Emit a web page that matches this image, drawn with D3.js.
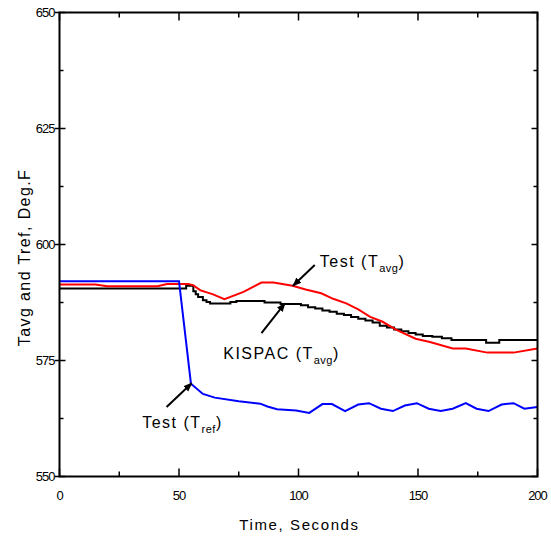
<!DOCTYPE html>
<html>
<head>
<meta charset="utf-8">
<script src="https://cdn.jsdelivr.net/npm/d3@7"></script>
<style>
  body { margin: 0; background: #fff; overflow: hidden; }
  svg { display: block; }
  text { font-family: "Liberation Sans", Arial, sans-serif; fill: #000; }
</style>
</head>
<body>
<div id="chart"></div>
<script>
// tick values
var timeTicks = [0, 50, 100, 150, 200];
var timeMinor = [25, 75, 125, 175];
var tempTicks = [550, 575, 600, 625, 650];
var tempMinor = [562.5, 587.5, 612.5, 637.5];

// Test (Tref) - blue
var testTref = [
  [0, 592.1], [50, 592.1], [55, 570], [60, 567.8], [65, 567], [75, 566.2],
  [84, 565.7], [87, 565.1], [91, 564.5], [99, 564.2], [104.5, 563.7],
  [110, 565.6], [114, 565.6], [119.5, 564.1], [125, 565.5], [129.5, 565.8],
  [134.5, 564.6], [139.5, 564.1], [144.5, 565.3], [149.5, 565.8], [154.5, 564.6],
  [159.5, 564.1], [164.5, 564.6], [170, 565.8], [174.5, 564.6], [179.5, 564.1],
  [185, 565.5], [190, 565.8], [194.5, 564.6], [200, 565]
];

// Test (Tavg) - red
var testTavg = [
  [0, 591.4], [15, 591.4], [20, 591], [41, 591], [45, 591.5], [54, 591.5],
  [56, 591.2], [59, 590.1], [64, 589.3], [69, 588.2], [77, 589.8], [84.5, 591.8],
  [89.5, 591.8], [97.5, 591.1], [103, 590.3], [109.5, 589.5], [114.5, 588.3],
  [120, 587.3], [125, 586], [130, 584.4], [135, 583.4], [141, 581.6], [149, 579.7],
  [155, 579], [164.5, 577.6], [170, 577.6], [179, 576.7], [190, 576.7], [200, 577.6]
];

// KISPAC (Tavg) - black, stepped
var kispacTavg = [
  [0, 590.5], [53, 591.1], [56, 589.9], [57, 589.3], [58, 588.7], [60, 588.0],
  [61.5, 587.6], [63, 587.3], [71.5, 587.6], [74, 587.8], [85.8, 587.5],
  [92.5, 587.2], [101, 586.9], [104, 586.5], [107, 586.2], [110, 585.8],
  [113, 585.5], [116, 585.1], [119, 584.8], [122, 584.4], [125, 584.0],
  [128, 583.6], [131, 583.2], [134, 582.5], [137, 582.1], [140, 581.7],
  [143, 581.3], [146, 580.9], [149, 580.6], [152, 580.3], [156, 580.1],
  [160, 579.8], [164, 579.4], [178.5, 578.8], [184, 579.4], [200, 579.4]
];

var width = 551, height = 536;
var margin = { top: 12.5, right: 13.5, bottom: 59.5, left: 59.5 };
var innerWidth = width - margin.left - margin.right;
var innerHeight = height - margin.top - margin.bottom;

var svg = d3.select("#chart")
  .append("svg")
  .attr("width", width)
  .attr("height", height)
  .append("g")
  .attr("transform", "translate(" + margin.left + "," + margin.top + ")");

var x = d3.scaleLinear().domain([0, 200]).range([0, innerWidth]);
var y = d3.scaleLinear().domain([550, 650]).range([innerHeight, 0]);

// arrowhead
svg.append("defs").append("marker")
  .attr("id", "arrow")
  .attr("viewBox", "0 0 10 10")
  .attr("refX", 9).attr("refY", 5)
  .attr("markerWidth", 9).attr("markerHeight", 9)
  .attr("markerUnits", "userSpaceOnUse")
  .attr("orient", "auto")
  .append("path")
  .attr("d", "M0,1 L10,5 L0,9 Z")
  .attr("fill", "#000");

// lines
var line = d3.line().x(d => x(d[0])).y(d => y(d[1]));
var stepLine = d3.line().x(d => x(d[0])).y(d => y(d[1])).curve(d3.curveStepAfter);

svg.append("path").datum(kispacTavg)
  .attr("d", stepLine).attr("fill", "none")
  .attr("stroke", "#000").attr("stroke-width", 2);

svg.append("path").datum(testTavg)
  .attr("d", line).attr("fill", "none")
  .attr("stroke", "#ff0000").attr("stroke-width", 2);

svg.append("path").datum(testTref)
  .attr("d", line).attr("fill", "none")
  .attr("stroke", "#0000ff").attr("stroke-width", 2);

// frame
svg.append("rect")
  .attr("x", 0).attr("y", 0)
  .attr("width", innerWidth).attr("height", innerHeight)
  .attr("fill", "none").attr("stroke", "#000").attr("stroke-width", 2);

// ticks (inward on all four sides)
function xTicks(vals, len) {
  svg.selectAll(null).data(vals).enter().append("line")
    .attr("x1", d => x(d)).attr("x2", d => x(d))
    .attr("y1", innerHeight).attr("y2", innerHeight - len)
    .attr("stroke", "#000").attr("stroke-width", 1.5);
  svg.selectAll(null).data(vals).enter().append("line")
    .attr("x1", d => x(d)).attr("x2", d => x(d))
    .attr("y1", 0).attr("y2", len)
    .attr("stroke", "#000").attr("stroke-width", 1.5);
}
function yTicks(vals, len, out) {
  svg.selectAll(null).data(vals).enter().append("line")
    .attr("x1", -out).attr("x2", len)
    .attr("y1", d => y(d)).attr("y2", d => y(d))
    .attr("stroke", "#000").attr("stroke-width", 1.5);
  svg.selectAll(null).data(vals).enter().append("line")
    .attr("x1", innerWidth - len).attr("x2", innerWidth)
    .attr("y1", d => y(d)).attr("y2", d => y(d))
    .attr("stroke", "#000").attr("stroke-width", 1.5);
}
xTicks(timeTicks, 8);
xTicks(timeMinor, 5);
yTicks(tempTicks, 6, 4.5);
yTicks(tempMinor, 4, 0);

// tick labels
svg.selectAll(".xl").data(timeTicks).enter().append("text")
  .attr("x", d => x(d)).attr("y", innerHeight + 23)
  .attr("text-anchor", "middle")
  .style("font-size", "13px").style("letter-spacing", "-1px")
  .text(d => d);

svg.selectAll(".yl").data(tempTicks).enter().append("text")
  .attr("x", -5).attr("y", d => y(d) + 4.5)
  .attr("text-anchor", "end")
  .style("font-size", "13px").style("letter-spacing", "-1px")
  .text(d => d);

// axis titles
svg.append("text")
  .attr("x", innerWidth / 2 + 1).attr("y", innerHeight + 53)
  .attr("text-anchor", "middle")
  .style("font-size", "15px").style("letter-spacing", "1.6px")
  .text("Time, Seconds");

svg.append("text")
  .attr("transform", "translate(-30," + (innerHeight / 2 + 13) + ") rotate(-90)")
  .attr("text-anchor", "middle")
  .style("font-size", "16px").style("letter-spacing", "1.4px")
  .text("Tavg and Tref, Deg.F");

// annotations
function note(tx, ty, main, sub, from, to) {
  var t = svg.append("text")
    .attr("x", x(tx)).attr("y", y(ty))
    .style("font-size", "16px").style("letter-spacing", "1.5px");
  t.append("tspan").text(main + " (T");
  t.append("tspan").attr("dy", 5).style("font-size", "11px").style("letter-spacing", "0.5px").text(sub);
  t.append("tspan").attr("dy", -5).text(")");
  svg.append("line")
    .attr("x1", x(from[0])).attr("y1", y(from[1]))
    .attr("x2", x(to[0])).attr("y2", y(to[1]))
    .attr("stroke", "#000").attr("stroke-width", 2)
    .attr("marker-end", "url(#arrow)");
}
note(108.9, 595.1, "Test", "avg", [106.8, 595.6], [97.7, 591.1]);
note(68.5, 575.3, "KISPAC", "avg", [84.5, 580.9], [94.3, 587.3]);
note(34.6, 560.4, "Test", "ref", [44.8, 565.0], [55.3, 570.1]);
</script>
</body>
</html>
